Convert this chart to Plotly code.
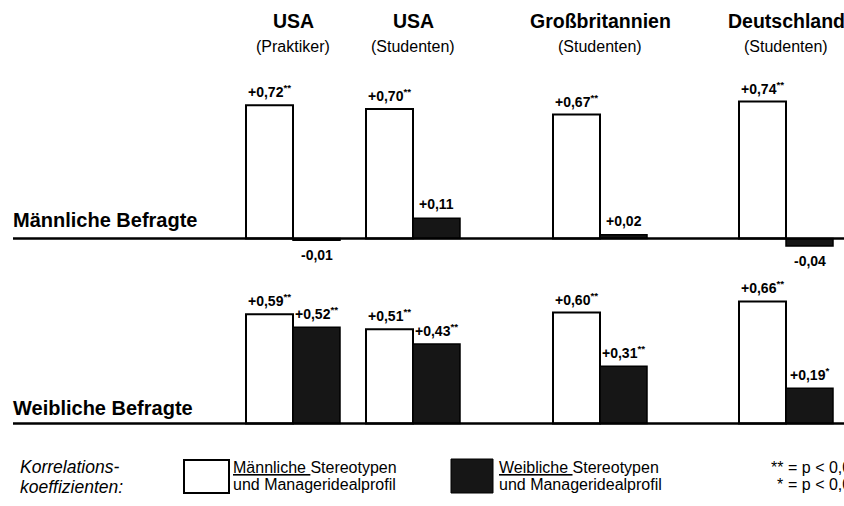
import plotly.graph_objects as go

# ---------------- data ----------------
groups = ["USA", "USA", "Großbritannien", "Deutschland"]
subgroups = ["(Praktiker)", "(Studenten)", "(Studenten)", "(Studenten)"]

male_resp_male_stereo = [0.72, 0.70, 0.67, 0.74]     # Männliche Befragte, weiße Balken
male_resp_female_stereo = [-0.01, 0.11, 0.02, -0.04]  # Männliche Befragte, schwarze Balken
fem_resp_male_stereo = [0.59, 0.51, 0.60, 0.66]      # Weibliche Befragte, weiße Balken
fem_resp_female_stereo = [0.52, 0.43, 0.31, 0.19]    # Weibliche Befragte, schwarze Balken

sig_mm = ["**", "**", "**", "**"]
sig_mf = ["", "", "", ""]
sig_fm = ["**", "**", "**", "**"]
sig_ff = ["**", "**", "**", "*"]

panel_labels = ["Männliche Befragte", "Weibliche Befragte"]

# ---------------- layout constants ----------------
W, H = 844, 506
FONT = "Liberation Sans, Arial, Helvetica, sans-serif"
group_pos = [293, 413, 600, 786]   # x position (px) of each group's centre
bar_w = 47
ppu = 185                          # pixels per correlation unit
base_top, base_bot = 238.5, 423.5  # baseline y (px from top)
DARK = "#161616"


def py(px):
    return 1 - px / H


def dom(base, lo, hi):
    return [py(base - lo * ppu), py(base - hi * ppu)]


def fmt(v, s):
    t = f"<b>{v:+.2f}</b>".replace(".", ",")
    return t + (f"<b><sup>{s}</sup></b>" if s else "")


fig = go.Figure()

panels = [
    ("y", male_resp_male_stereo, male_resp_female_stereo, sig_mm, sig_mf),
    ("y2", fem_resp_male_stereo, fem_resp_female_stereo, sig_fm, sig_ff),
]

annotations = []
for yref, white_vals, dark_vals, s_w, s_d in panels:
    fig.add_trace(go.Bar(
        x=group_pos, y=white_vals, width=bar_w, offset=-bar_w, yaxis=yref,
        marker=dict(color="white", line=dict(color="black", width=2)),
        showlegend=False, hoverinfo="skip"))
    fig.add_trace(go.Bar(
        x=group_pos, y=dark_vals, width=bar_w, offset=0, yaxis=yref,
        marker=dict(color=DARK, line=dict(color="black", width=1.5)),
        showlegend=False, hoverinfo="skip"))
    for vals, sigs, off in ((white_vals, s_w, -bar_w / 2), (dark_vals, s_d, bar_w / 2)):
        for gx, v, s in zip(group_pos, vals, sigs):
            annotations.append(dict(
                x=gx + off, y=v, xref="x", yref=yref, text=fmt(v, s),
                showarrow=False, yanchor="middle", xanchor="center",
                yshift=14 if v >= 0 else -15,
                font=dict(family=FONT, size=14, color="black")))

# group titles
for gx, g, sg in zip(group_pos, groups, subgroups):
    annotations.append(dict(x=gx, y=py(21), xref="x", yref="paper", text=f"<b>{g}</b>",
                            showarrow=False, xanchor="center", yanchor="middle",
                            font=dict(family=FONT, size=19.5, color="black")))
    annotations.append(dict(x=gx, y=py(46), xref="x", yref="paper", text=sg,
                            showarrow=False, xanchor="center", yanchor="middle",
                            font=dict(family=FONT, size=16, color="black")))

# panel labels
for lbl, ypx in zip(panel_labels, (220, 408)):
    annotations.append(dict(x=11, y=py(ypx), xref="x", yref="paper", text=f"<b>{lbl}</b>",
                            showarrow=False, xanchor="left", yanchor="middle",
                            font=dict(family=FONT, size=20, color="black")))

# legend texts
leg = [
    (18, 467, "<i>Korrelations-</i>", 17.5, "left"),
    (18, 487, "<i>koeffizienten:</i>", 17.5, "left"),
    (231, 467, "<u>Männliche </u>Stereotypen", 16, "left"),
    (231, 484, "und Manageridealprofil", 16, "left"),
    (497, 467, "<u>Weibliche </u>Stereotypen", 16, "left"),
    (497, 484, "und Manageridealprofil", 16, "left"),
    (785, 467, "**", 16, "right"),
    (785, 484, "*", 16, "right"),
    (786, 467, "= p < 0,01", 16, "left"),
    (786, 484, "= p < 0,05", 16, "left"),
]
for x, ypx, t, sz, xa in leg:
    annotations.append(dict(x=x, y=py(ypx), xref="x", yref="paper", text=t,
                            showarrow=False, xanchor=xa, yanchor="middle",
                            font=dict(family=FONT, size=sz, color="black")))

shapes = [
    dict(type="line", xref="x", yref="y", x0=13, x1=W, y0=0, y1=0,
         line=dict(color="black", width=2.5)),
    dict(type="line", xref="x", yref="y2", x0=13, x1=W, y0=0, y1=0,
         line=dict(color="black", width=2.5)),
    dict(type="rect", xref="x", yref="paper", x0=184, x1=229, y0=py(493), y1=py(460),
         fillcolor="white", line=dict(color="black", width=2)),
    dict(type="rect", xref="x", yref="paper", x0=451, x1=493, y0=py(493), y1=py(459),
         fillcolor=DARK, line=dict(color="black", width=1)),
]

fig.update_layout(
    width=W, height=H, margin=dict(l=0, r=0, t=0, b=0),
    paper_bgcolor="white", plot_bgcolor="rgba(0,0,0,0)",
    barmode="overlay",
    xaxis=dict(range=[0, W], domain=[0, 1], visible=False, fixedrange=True),
    yaxis=dict(range=[-0.12, 0.85], domain=dom(base_top, -0.12, 0.85), visible=False),
    yaxis2=dict(range=[-0.06, 0.75], domain=dom(base_bot, -0.06, 0.75), visible=False,
                anchor="x"),
    annotations=annotations, shapes=shapes,
    font=dict(family=FONT, color="black"),
)

fig.write_html("out.html", config={"displayModeBar": False},
               post_script="document.body.style.margin='0';document.body.style.overflow='hidden';")
